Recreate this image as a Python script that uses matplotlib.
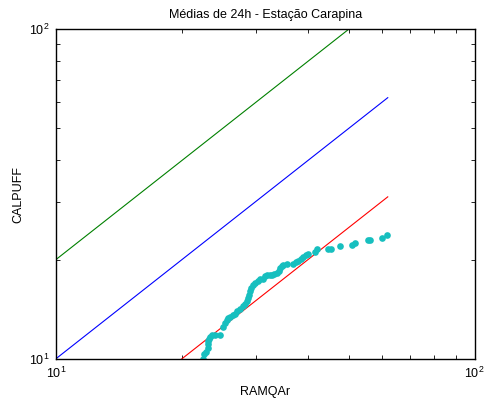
import matplotlib
matplotlib.use("Agg")
import matplotlib.pyplot as plt
from matplotlib.ticker import LogLocator, NullFormatter

plt.rcParams["font.family"] = ["Liberation Sans", "DejaVu Sans"]
plt.rcParams["mathtext.fontset"] = "custom"
plt.rcParams["mathtext.rm"] = "Liberation Sans"

# --- Data: sorted 24h averages (RAMQAr vs CALPUFF) ---
ramqar = [22.5, 22.6, 22.8, 23.1, 23.1, 23.1, 23.2, 23.3, 23.6, 24.0, 24.7,
          25.1, 25.3, 25.6, 25.8, 26.0, 26.4, 26.8, 27.1, 27.5, 27.9, 28.3,
          28.6, 28.8, 28.9, 29.1, 29.3, 29.6, 29.9, 30.3, 30.7, 31.2, 31.6,
          32.0, 32.4, 32.8, 33.2, 33.7, 34.0, 34.3, 34.6, 34.9, 35.6, 36.9,
          37.4, 37.9, 38.4, 39.0, 39.5, 39.9, 41.6, 41.9, 44.7, 45.5, 47.7,
          51.0, 51.8, 55.7, 56.2, 60.2, 61.8]
calpuff = [10.0, 10.3, 10.5, 10.8, 11.1, 11.3, 11.5, 11.6, 11.8, 11.8, 11.8,
           12.5, 12.8, 13.1, 13.3, 13.4, 13.6, 13.7, 14.0, 14.2, 14.5, 14.7,
           15.0, 15.3, 15.6, 16.0, 16.4, 16.7, 17.0, 17.2, 17.4, 17.5, 17.8,
           18.0, 18.0, 18.0, 18.1, 18.2, 18.5, 18.8, 19.1, 19.3, 19.4, 19.4,
           19.6, 19.8, 20.1, 20.3, 20.6, 20.8, 21.1, 21.5, 21.5, 21.5, 22.0,
           22.1, 22.4, 22.9, 23.0, 23.2, 23.7]

# --- Reference lines (2:1, 1:1, 1:2) ---
ref_x = [10, 62]
ref_2to1 = [20, 124]
ref_1to1 = [10, 62]
ref_1to2 = [5, 31]

fig = plt.figure(figsize=(4.92, 4.04), dpi=100)
ax = fig.add_axes([0.1138, 0.1121, 0.851, 0.8154])

ax.plot(ref_x, ref_2to1, color="#008000", lw=0.8)
ax.plot(ref_x, ref_1to1, color="#0000ff", lw=0.8)
ax.plot(ref_x, ref_1to2, color="#ff0000", lw=0.8)
ax.plot(ramqar, calpuff, "o", color="#17bfbf", ms=4.8, mec="none")

ax.set_xscale("log")
ax.set_yscale("log")
ax.set_xlim(10, 100)
ax.set_ylim(10, 100)

for axis in (ax.xaxis, ax.yaxis):
    axis.set_minor_locator(LogLocator(base=10, subs=range(2, 10)))
    axis.set_minor_formatter(NullFormatter())

ax.tick_params(which="both", direction="in", top=True, right=True,
               labelsize=9, width=0.6)
ax.tick_params(which="major", length=4, pad=5)
ax.tick_params(which="minor", length=3)
for sp in ax.spines.values():
    sp.set_linewidth(1.0)

ax.set_title("Médias de 24h - Estação Carapina", fontsize=9, pad=8)
ax.set_xlabel("RAMQAr", fontsize=9, labelpad=4)
ax.set_ylabel("CALPUFF", fontsize=9, labelpad=3)

fig.savefig("out.png", dpi=100)
